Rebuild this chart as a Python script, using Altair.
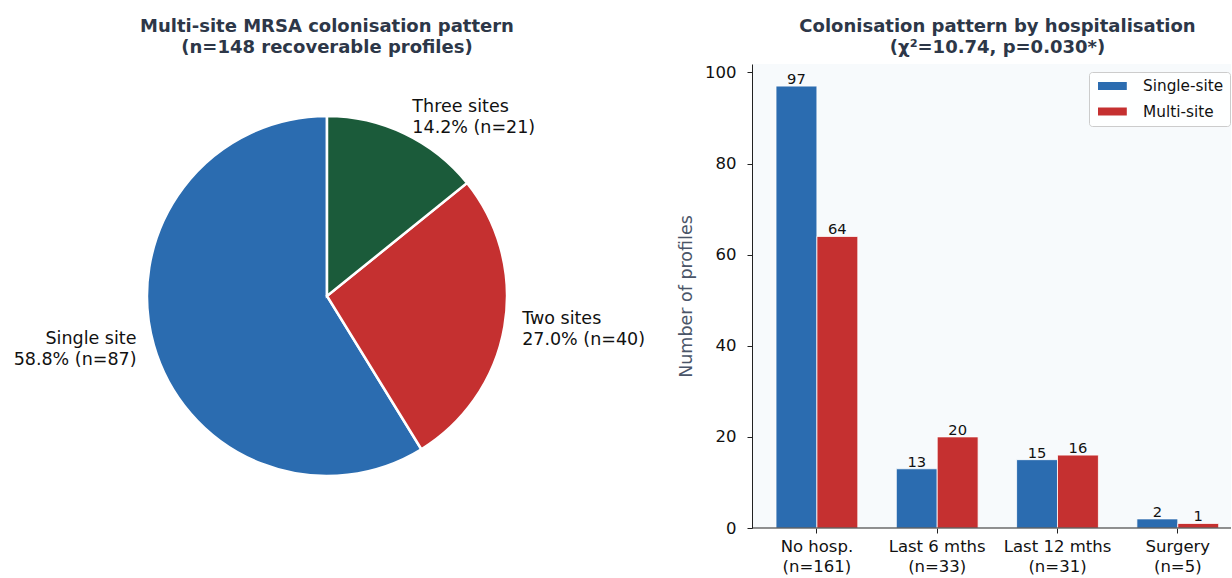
import altair as alt
import pandas as pd

FONT = "DejaVu Sans"

# ---- pie data ----
pie_names = ["Single site", "Two sites", "Three sites"]
pie_counts = [87, 40, 21]
pie_colors = ["#2b6cb0", "#c53030", "#1b5b3a"]
pie_draw_order = [3, 2, 1]          # clockwise from 12 o'clock: Three, Two, Single
pie_label_side = ["left", "right", "right"]

# ---- bar data ----
groups = ["No hosp.\n(n=161)", "Last 6 mths\n(n=33)", "Last 12 mths\n(n=31)", "Surgery\n(n=5)"]
single_site = [97, 13, 15, 2]
multi_site = [64, 20, 16, 1]
series = ["Single-site", "Multi-site"]
bar_colors = ["#2b6cb0", "#c53030"]
y_ticks = [0, 20, 40, 60, 80, 100]
baseline_value = [0]

pie_title = ["Multi-site MRSA colonisation pattern", "(n=148 recoverable profiles)"]
bar_title = ["Colonisation pattern by hospitalisation", "(χ²=10.74, p=0.030*)"]

total = sum(pie_counts)
pie_rows = []
for n, c, o, s in zip(pie_names, pie_counts, pie_draw_order, pie_label_side):
    lab = f"{n}\n{100 * c / total:.1f}% (n={c})"
    pie_rows.append({
        "name": n, "count": c, "order": o,
        "lab_right": lab if s == "right" else "",
        "lab_left": lab if s == "left" else "",
    })
pie_df = pd.DataFrame(pie_rows)

bar_rows = []
for g, a, b in zip(groups, single_site, multi_site):
    bar_rows.append({"group": g, "series": series[0], "value": a})
    bar_rows.append({"group": g, "series": series[1], "value": b})
bar_df = pd.DataFrame(bar_rows)

R = 180

pie_base = alt.Chart(pie_df).encode(
    theta=alt.Theta("count:Q", stack=True),
    order=alt.Order("order:Q"),
)
arcs = pie_base.mark_arc(outerRadius=R, stroke="white", strokeWidth=2.5).encode(
    color=alt.Color("name:N", scale=alt.Scale(domain=pie_names, range=pie_colors), legend=None)
)
txt_r = pie_base.mark_text(radius=R * 1.1, align="left", baseline="middle", lineBreak="\n", dy=-10.5,
                           fontSize=17.5, font=FONT, color="#111111", lineHeight=21).encode(text="lab_right:N")
txt_l = pie_base.mark_text(radius=R * 1.1, align="right", baseline="middle", lineBreak="\n", dy=-10.5,
                           fontSize=17.5, font=FONT, color="#111111", lineHeight=21).encode(text="lab_left:N")

pie = alt.layer(arcs, txt_r, txt_l).properties(
    width=654, height=464,
    title=alt.TitleParams(pie_title, fontSize=18, fontWeight="bold", color="#2d3748",
                          font=FONT, lineHeight=21, anchor="middle", offset=7),
)

xenc = alt.X("group:N", sort=groups, title=None,
             scale=alt.Scale(paddingInner=0.32, paddingOuter=0.151, align=0.661),
             axis=alt.Axis(labelAngle=0, labelExpr="split(datum.label, '\\n')", domain=False,
                           labelFontSize=16.5, labelLineHeight=20, tickSize=5, labelPadding=5,
                           tickColor="#222222", labelColor="#111111",
                           labelFont=FONT))
xoff = alt.XOffset("series:N", sort=series, scale=alt.Scale(paddingInner=0, paddingOuter=0))
yenc = alt.Y("value:Q", scale=alt.Scale(domain=[0, 101.85], nice=False),
             axis=alt.Axis(values=y_ticks, title="Number of profiles", grid=False,
                           labelFontSize=16.5, tickSize=5, labelPadding=11,
                           titleFontSize=17.5, titleFontWeight="normal", titleColor="#4a5568",
                           titlePadding=9, titleFont=FONT,
                           domainColor="#222222", tickColor="#222222", labelColor="#111111",
                           labelFont=FONT))

bars = alt.Chart(bar_df).mark_bar(stroke="white", strokeWidth=0.8).encode(
    x=xenc, xOffset=xoff, y=yenc,
    color=alt.Color("series:N", sort=series,
                    scale=alt.Scale(domain=series, range=bar_colors),
                    legend=alt.Legend(title=None, orient="none", legendX=337, legendY=8,
                                      symbolType="M-1.8,-0.5H1.8V0.5H-1.8Z", symbolSize=256,
                                      symbolOffset=9.4,
                                      symbolStrokeWidth=0, labelFontSize=15.3, labelFont=FONT,
                                      labelColor="#111111", labelOffset=22.6, rowPadding=8.5,
                                      fillColor="rgba(255,255,255,0.85)", strokeColor="#cccccc",
                                      cornerRadius=3, padding=6)),
)
bar_text = alt.Chart(bar_df).mark_text(baseline="alphabetic", dy=-2, fontSize=14.7,
                                       font=FONT, color="#111111").encode(
    x=xenc, xOffset=xoff, y=yenc, text="value:Q",
)
base_rule = alt.Chart(pd.DataFrame({"v": baseline_value})).mark_rule(
    color="#222222", strokeWidth=1).encode(y=alt.Y("v:Q"))

bar = alt.layer(bars, bar_text, base_rule).properties(
    width=479, height=464,
    view=alt.ViewBackground(fill="#f7fafc", strokeWidth=0),
    title=alt.TitleParams(bar_title, fontSize=18, fontWeight="bold", color="#2d3748",
                          font=FONT, lineHeight=21, anchor="middle", offset=7, dx=6),
)

chart = alt.hconcat(pie, bar, spacing=23).resolve_scale(color="independent").configure_view(
    strokeWidth=0
).properties(
    padding={"left": 0, "top": 18, "right": 0, "bottom": 0}
).configure(font=FONT)

chart.save("out.html", embed_options={"renderer": "svg", "actions": False})
